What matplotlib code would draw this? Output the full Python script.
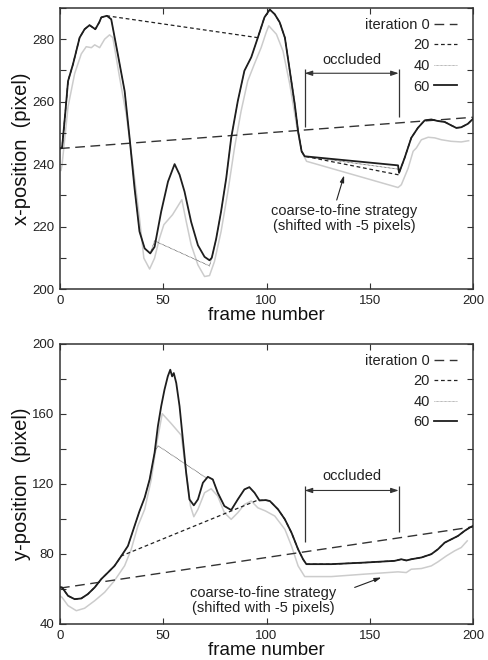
import numpy as np
import matplotlib
matplotlib.use("Agg")
import matplotlib.pyplot as plt
from matplotlib.lines import Line2D
from matplotlib.ticker import MultipleLocator

plt.rcParams['font.family'] = ['Liberation Sans', 'DejaVu Sans']

# ---- x-position panel (pixel) ----
x_frames = [0, 1, 2.5, 3.9, 6.3, 9.5, 11.9, 14.3, 17.1, 19, 20, 22.7, 24.8, 28, 31.3, 33.7,
            36.1, 38.5, 41, 43.7, 45.8, 49, 52.3, 55.5, 57.9, 60.3, 63.5, 66.8, 70, 72.4,
            73.5, 75.6, 78, 80.5, 82.9, 86.1, 89.3, 92.6, 95.8, 99, 101.6, 104, 106.4,
            108.9, 111.3, 113.7, 115.3, 117, 118.5, 163.7, 164.2, 166.9, 170.1, 173.3,
            176.6, 179.8, 183, 186.3, 189.5, 191.9, 194.3, 197.5, 200]
x_it60 = [245, 245.2, 256, 266.6, 272, 280.5, 283.2, 284.5, 283.2, 285.4, 287, 287.5, 286.4,
          275.2, 263.4, 248.4, 232.3, 218.4, 213, 211.4, 213.5, 224.8, 234.4, 240, 236.6,
          231.2, 221.5, 214, 210.3, 209.2, 210, 216, 224.8, 235.5, 248.4, 260.2, 269.9,
          274.2, 280.5, 287, 289.5, 288, 285.4, 280.5, 269.8, 259.1, 250.5, 244.1, 242.5,
          239.6, 237.2, 242, 248.4, 251.6, 254, 254.3, 253.8, 253.5, 252.4, 251.6, 251.8,
          252.9, 254.5]
x_c2f_frames = [0.5, 1, 3.9, 7.1, 10.3, 12.7, 15.2, 16.8, 19.2, 21.6, 24, 25.6, 28.9, 32.1,
                35.3, 38.5, 40.6, 43.4, 45.8, 48.2, 50.3, 54.5, 59, 61.1, 63.5, 66.8, 70,
                72.4, 74.8, 78, 81.3, 84.5, 87.7, 90.9, 94.1, 97.4, 99.8, 101.1, 104.8, 108,
                111.3, 114.5, 117, 119.4, 163.7, 165.3, 168.6, 171, 172.6, 175, 178.3, 181.5,
                184.7, 189.5, 194.3, 197.9]
x_c2f = [238, 239.8, 258.4, 269, 275.3, 277.6, 277.3, 278.2, 277.3, 280, 281.4, 280.5, 267.6,
         255.8, 239.8, 222.7, 209.9, 206.4, 209.9, 216.3, 220.6, 223.8, 228.6, 221.7, 214.2,
         207.7, 204, 204.3, 208.8, 218.4, 231.2, 245.2, 257, 266.6, 272, 277.3, 282.1, 284.3,
         281.6, 276.2, 265.5, 252.7, 244.1, 240.9, 232.5, 233.4, 238.7, 244.1, 245.2, 247.8,
         248.6, 248.4, 247.8, 247.3, 247.1, 247.5]
x_it0_ends = [245, 255]
# (frame start, value start, frame end, value end) of straight bridges
x_it20_gaps = [(22.7, 287.5, 95.8, 280.5), (118.5, 242.5, 163.7, 236.6)]
x_it40_gaps = [(45.8, 215.4, 72.4, 207.4), (118.5, 242.5, 163.7, 238.4)]

# ---- y-position panel (pixel) ----
y_frames = [0, 1, 3.9, 7.1, 10.3, 13.5, 16.8, 20, 23.2, 26.4, 29.7, 32.9, 36.1, 38.5, 41,
            43.4, 45.8, 47.4, 49, 50.6, 52.2, 53.4, 54.3, 55.1, 56.3, 57.9, 59.5, 61.1, 62.7,
            64.8, 66.8, 69.2, 71.6, 74, 76.4, 79.6, 82.9, 86.1, 89.3, 91.7, 94.2, 96.6, 99.5,
            101.6, 105.6, 108.9, 112.1, 115.3, 117.7, 119.3, 131.4, 147.6, 162.1, 165.3,
            167.7, 170.1, 175, 179.8, 183, 186.3, 189.5, 192.7, 195.9, 198.4, 200]
y_it60 = [61, 60.9, 56.1, 54.2, 54.6, 57.1, 60.9, 65.7, 69.4, 73.2, 78.9, 84.6, 96, 104.5,
          112.2, 122.6, 137.8, 153, 164.4, 173.9, 181.5, 185.3, 181.5, 183.4, 177.7, 164.4,
          145.4, 126.4, 111.2, 107.8, 111.2, 120.7, 124.1, 122.6, 115, 107.4, 105.1, 111.2,
          116.9, 118.2, 115, 110.6, 110.8, 110.3, 105.5, 99.8, 92.2, 82.7, 77, 74.2, 74.2,
          75.1, 76.1, 77, 76.3, 77, 78, 79.9, 82.7, 86.5, 88.4, 90.3, 93.2, 95.1, 96]
y_c2f_frames = [0, 1, 3.9, 7.9, 11.9, 16.8, 21.6, 26.4, 31.3, 34.5, 37.7, 41, 44.2, 46.6,
                49.5, 53.9, 58.7, 61.1, 63.2, 64.8, 66.8, 70, 73.2, 76.4, 79.6, 82.9, 86.1,
                89.3, 92.6, 95.8, 99.5, 104, 108.9, 112.1, 115.3, 118.5, 131.4, 147.6, 163.7,
                167.7, 170.1, 175, 179.8, 183, 187.1, 191.1, 194.3, 197.2]
y_c2f = [56, 55.2, 50.5, 47.6, 49, 53.3, 58.1, 64.8, 73.3, 82.7, 96, 105.5, 122.6, 141.6,
         160.2, 154.5, 147.9, 126.4, 107.4, 101.3, 105.5, 115, 117.3, 113.1, 103.6, 99.8,
         103.6, 108.3, 110.3, 106.4, 104.6, 101.7, 94.1, 84.6, 73.2, 67.1, 67.1, 68.5, 69.8,
         69.4, 71.3, 71.7, 73.2, 75.5, 78.9, 81.8, 83.7, 87.5]
y_it0_ends = [60.5, 95.5]
y_it20_gaps = [(29.7, 78.9, 95.8, 110.8)]
y_it40_gaps = [(47.4, 141.9, 70.8, 123.5)]

occl_start, occl_end = 118.5, 164

labels = ['iteration 0', '20', '40', '60']
dark = '#1e1e1e'


def bridged(frames, values, gaps):
    f = np.asarray(frames, float)
    v = np.asarray(values, float)
    keep = np.ones(len(f), bool)
    extra_f, extra_v = [], []
    for a, va, b, vb in gaps:
        keep &= ~((f >= a) & (f <= b))
        extra_f += [a, b]
        extra_v += [va, vb]
    f = np.concatenate([f[keep], extra_f])
    v = np.concatenate([v[keep], extra_v])
    order = np.argsort(f, kind='stable')
    return f[order], v[order]


styles = {
    'it0': dict(color='#333333', lw=1.0, dashes=(7, 4)),
    'it20': dict(color='#222222', lw=0.9, dashes=(3, 2.2)),
    'it40': dict(color='#333333', lw=0.6, dashes=(0.8, 0.8)),
    'it60': dict(color=dark, lw=1.3),
}


def draw(ax, frames, it60, c2f_f, c2f, it0, g20, g40):
    ax.plot(c2f_f, c2f, color='#cccccc', lw=1.1, zorder=1)
    ax.plot([0, 200], it0, zorder=2, **styles['it0'])
    f20, v20 = bridged(frames, it60, g20)
    ax.plot(f20, v20, zorder=3, **styles['it20'])
    f40, v40 = bridged(frames, it60, g40)
    ax.plot(f40, v40, zorder=4, **styles['it40'])
    ax.plot(frames, it60, zorder=5, **styles['it60'])
    ax.set_xlim(0, 200)
    ax.xaxis.set_major_locator(MultipleLocator(50))
    ax.tick_params(direction='in', top=True, right=True, which='both', length=4,
                   width=0.8, labelsize=9.5, color='#333333', labelcolor='#222222')
    ax.tick_params(axis='x', pad=4)
    ax.tick_params(axis='y', pad=4)
    for s in ax.spines.values():
        s.set_linewidth(1.1)
        s.set_color('#333333')
    ax.set_xlabel('frame number', fontsize=13.5, labelpad=0, color='#111111')
    handles = [Line2D([], [], **styles[k]) for k in ['it0', 'it20', 'it40', 'it60']]
    handles[2].set_color('#888888')
    ax.legend(handles, labels, markerfirst=False, frameon=False, loc='upper right',
              bbox_to_anchor=(0.962, 0.965), borderaxespad=0, borderpad=0,
              fontsize=10.5, handlelength=1.6, handletextpad=0.3, labelspacing=0.45,
              labelcolor='#222222')


def occluded(ax, y_text, y_arrow, y_top, y_bot_l, y_bot_r):
    ax.text((occl_start + occl_end) / 2, y_text, 'occluded', ha='center', va='center',
            fontsize=10.5, color='#222222')
    ax.vlines(occl_start, y_bot_l, y_top, color='#333333', lw=0.9)
    ax.vlines(occl_end, y_bot_r, y_top, color='#333333', lw=0.9)
    ax.annotate('', xy=(occl_end, y_arrow), xytext=(occl_start, y_arrow),
                arrowprops=dict(arrowstyle='<|-|>,head_length=0.45,head_width=0.15',
                                color='#333333', lw=0.8, shrinkA=0, shrinkB=0))


fig = plt.figure(figsize=(4.88, 6.6), dpi=100)
ax1 = fig.add_axes([60 / 488, 1 - 289 / 660, 413 / 488, 281 / 660])
ax2 = fig.add_axes([60 / 488, 1 - 624 / 660, 413 / 488, 280 / 660])

draw(ax1, x_frames, x_it60, x_c2f_frames, x_c2f, x_it0_ends, x_it20_gaps, x_it40_gaps)
ax1.set_ylim(200, 290)
ax1.yaxis.set_major_locator(MultipleLocator(20))
ax1.yaxis.set_minor_locator(MultipleLocator(10))
ax1.set_ylabel('x-position  (pixel)', fontsize=14.5, labelpad=1, color='#111111')
occluded(ax1, 273.2, 269.1, 270.4, 252, 255.2)
ax1.text(137.5, 222.5, 'coarse-to-fine strategy\n(shifted with -5 pixels)', ha='center',
         va='center', fontsize=10.5, color='#222222', linespacing=1.1)
ax1.annotate('', xy=(137.6, 236.4), xytext=(134, 228.5),
             arrowprops=dict(arrowstyle='-|>,head_length=0.4,head_width=0.12',
                             color='#222222', lw=0.8, shrinkA=0, shrinkB=0))

draw(ax2, y_frames, y_it60, y_c2f_frames, y_c2f, y_it0_ends, y_it20_gaps, y_it40_gaps)
ax2.set_ylim(40, 200)
ax2.yaxis.set_major_locator(MultipleLocator(40))
ax2.yaxis.set_minor_locator(MultipleLocator(20))
ax2.set_ylabel('y-position  (pixel)', fontsize=14.5, labelpad=1, color='#111111')
occluded(ax2, 124.3, 116.3, 118.6, 86.7, 92.4)
ax2.text(98.5, 53.6, 'coarse-to-fine strategy\n(shifted with -5 pixels)', ha='center',
         va='center', fontsize=10.5, color='#222222', linespacing=1.1)
ax2.annotate('', xy=(155.6, 66.6), xytext=(142.7, 60.9),
             arrowprops=dict(arrowstyle='-|>,head_length=0.4,head_width=0.12',
                             color='#222222', lw=0.8, shrinkA=0, shrinkB=0))

fig.savefig('out.png', dpi=100)
